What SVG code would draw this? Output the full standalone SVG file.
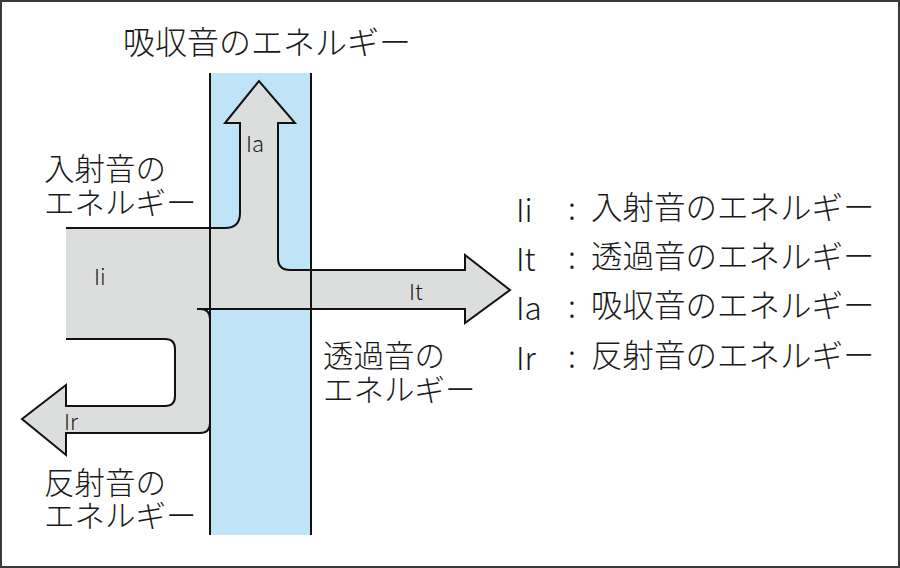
<svg xmlns="http://www.w3.org/2000/svg" width="900" height="568" viewBox="0 0 900 568">
<style>
.jp{font-family:"Noto Sans CJK JP","Noto Sans",sans-serif;font-size:30.5px;font-weight:300;fill:#1a1a1a}
.lg{font-family:"Noto Sans CJK JP","Noto Sans",sans-serif;font-size:31.5px;font-weight:300;fill:#1a1a1a}
.sm{font-family:"Noto Sans CJK JP","Noto Sans",sans-serif;font-size:22px;font-weight:300;fill:#1a1a1a}
.ln{fill:none;stroke:#111;stroke-width:2;stroke-linejoin:miter}
</style>
<rect x="1" y="1" width="898" height="566" fill="#fff" stroke="#3a3a3a" stroke-width="2"/>
<g id="wall">
<rect x="210" y="73" width="101" height="462" fill="#bfe4f7"/>
</g>
<g id="energy-flow">
<path fill="#dcdddd" d="M66,228 H225 Q240,228 240,213 V123 H225 L259,81 L295,123 H278 V258 Q278,270 290,270 H465 V255 L510,290 L465,323 V309 H200 Q210,309 210,319 V423 Q210,433 200,433 H66 V455 L22,419 L66,385 V406 H165 Q175,406 175,396 V349 Q175,339 165,339 H66 Z"/>
</g>
<g id="connectors">
<path class="ln" d="M66,228 H225 Q240,228 240,213 V123 H225 L259,81 L295,123 H278 V258 Q278,270 290,270 H465 V255 L510,290 L465,323 V309 H197"/>
<path class="ln" d="M200,309 Q210,309 210,319"/>
<path class="ln" d="M66,339 H165 Q175,339 175,349 V396 Q175,406 165,406 H66 V385 L22,419 L66,455 V433 H200 Q210,433 210,423"/>
<path class="ln" d="M210,73 V535 M311,73 V535"/>
</g>
<g id="title"><text class="jp" x="123" y="54" style="font-size:32px">吸収音のエネルギー</text></g>
<g id="incident-label"><text class="jp" x="44" y="180">入射音の</text><text class="jp" x="44" y="214">エネルギー</text></g>
<g id="transmitted-label"><text class="jp" x="323" y="367">透過音の</text><text class="jp" x="323" y="401">エネルギー</text></g>
<g id="reflected-label"><text class="jp" x="44" y="494">反射音の</text><text class="jp" x="44" y="527">エネルギー</text></g>
<g id="arrow-labels">
<text class="sm" x="94" y="285">Ii</text>
<text class="sm" x="246" y="152">Ia</text>
<text class="sm" x="409" y="300">It</text>
<text class="sm" x="64" y="430">Ir</text>
</g>
<g id="legend">
<text class="lg" x="516" y="222">Ii</text><text class="lg" x="572" y="220" text-anchor="middle">:</text><text class="lg" x="591" y="219">入射音のエネルギー</text>
<text class="lg" x="516" y="271">It</text><text class="lg" x="572" y="269" text-anchor="middle">:</text><text class="lg" x="591" y="268">透過音のエネルギー</text>
<text class="lg" x="516" y="320">Ia</text><text class="lg" x="572" y="318" text-anchor="middle">:</text><text class="lg" x="591" y="317">吸収音のエネルギー</text>
<text class="lg" x="516" y="370">Ir</text><text class="lg" x="572" y="368" text-anchor="middle">:</text><text class="lg" x="591" y="367">反射音のエネルギー</text>
</g>
</svg>
